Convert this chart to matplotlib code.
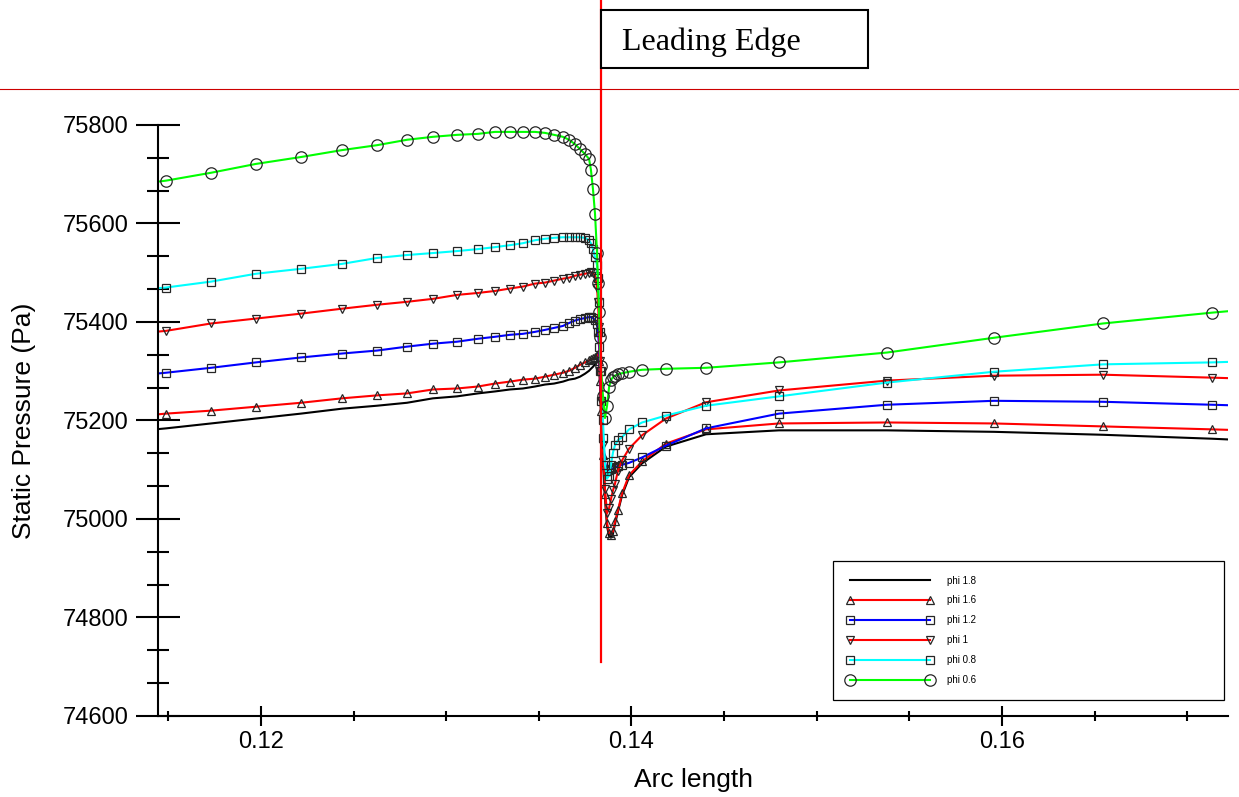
import matplotlib
matplotlib.use("Agg")
import matplotlib.pyplot as plt
from matplotlib.ticker import MultipleLocator, FormatStrFormatter
from matplotlib.patches import Rectangle
from matplotlib.lines import Line2D

# ---------------- data ----------------
arc_length = [0.11401, 0.11487, 0.11730, 0.11973, 0.12216, 0.12437, 0.12626, 0.12788,
              0.12928, 0.13058, 0.13171, 0.13263, 0.13344, 0.13414, 0.13479, 0.13533,
              0.13582, 0.13630, 0.13663, 0.13695, 0.13722, 0.13749, 0.13771, 0.13781,
              0.13792, 0.13803, 0.13814, 0.13819, 0.13825, 0.13830, 0.13835, 0.13846,
              0.13857, 0.13868, 0.13879, 0.13889, 0.13900, 0.13911, 0.13927, 0.13949,
              0.13987, 0.14057, 0.14186, 0.14402, 0.14796, 0.15379, 0.15957, 0.16545,
              0.17134, 0.17312]

phi_1_8 = [75181, 75184, 75194, 75204, 75214, 75224, 75230, 75236, 75245, 75249,
           75255, 75259, 75263, 75265, 75269, 75273, 75275, 75279, 75283, 75285,
           75289, 75295, 75301, 75305, 75309, 75314, 75320, 75330, 75315, 75270,
           75210, 75120, 75040, 74985, 74965, 74962, 74970, 74990, 75015, 75048,
           75085, 75113, 75147, 75172, 75180, 75180, 75177, 75171, 75163, 75160]

phi_1_6 = [75211, 75214, 75220, 75228, 75236, 75245, 75251, 75255, 75263, 75265,
           75269, 75275, 75279, 75283, 75285, 75289, 75293, 75297, 75301, 75307,
           75313, 75318, 75322, 75324, 75326, 75329, 75332, 75336, 75320, 75280,
           75220, 75130, 75050, 74992, 74972, 74968, 74975, 74995, 75018, 75052,
           75089, 75117, 75153, 75182, 75194, 75196, 75194, 75188, 75182, 75180]

phi_1_2 = [75294, 75297, 75307, 75318, 75328, 75336, 75342, 75350, 75356, 75360,
           75366, 75370, 75374, 75376, 75380, 75384, 75388, 75392, 75398, 75403,
           75406, 75408, 75410, 75410, 75408, 75404, 75395, 75380, 75350, 75300,
           75240, 75165, 75115, 75098, 75100, 75102, 75103, 75105, 75108, 75110,
           75114, 75125, 75149, 75184, 75214, 75232, 75240, 75238, 75232, 75230]

phi_1 = [75379, 75382, 75397, 75407, 75417, 75427, 75435, 75441, 75447, 75455,
         75459, 75463, 75468, 75472, 75478, 75480, 75484, 75488, 75490, 75494,
         75496, 75498, 75500, 75501, 75500, 75494, 75470, 75440, 75390, 75320,
         75240, 75150, 75060, 75012, 75022, 75040, 75058, 75072, 75098, 75119,
         75143, 75170, 75204, 75237, 75261, 75281, 75291, 75293, 75287, 75285]

phi_0_8 = [75467, 75470, 75482, 75498, 75508, 75518, 75530, 75536, 75540, 75544,
           75548, 75552, 75556, 75560, 75566, 75569, 75571, 75572, 75572, 75572,
           75572, 75571, 75566, 75560, 75548, 75532, 75515, 75490, 75440, 75380,
           75300, 75200, 75110, 75082, 75088, 75110, 75135, 75150, 75160, 75166,
           75182, 75196, 75210, 75230, 75249, 75277, 75299, 75314, 75318, 75320]

phi_0_6 = [75683, 75687, 75703, 75721, 75735, 75749, 75759, 75770, 75776, 75780,
           75782, 75786, 75786, 75786, 75786, 75784, 75780, 75776, 75770, 75761,
           75751, 75741, 75731, 75709, 75670, 75620, 75540, 75480, 75420, 75370,
           75310, 75250, 75205, 75230, 75268, 75282, 75288, 75291, 75294, 75296,
           75299, 75303, 75305, 75307, 75318, 75338, 75368, 75397, 75419, 75425]

series_labels = ["phi 1.8", "phi 1.6", "phi 1.2", "phi 1", "phi 0.8", "phi 0.6"]
series_values = [phi_1_8, phi_1_6, phi_1_2, phi_1, phi_0_8, phi_0_6]
leading_edge = 0.13835

# ---------------- styles ----------------
colors = ["#000000", "#ff0000", "#0000ff", "#ff0000", "#00ffff", "#00ff00"]
markers = [None, "^", "s", "v", "s", "o"]
msizes = [0, 6.0, 6.3, 6.0, 6.3, 8.2]

plt.rcParams["font.family"] = ["Liberation Sans", "DejaVu Sans"]

W, H = 1239, 797
fig = plt.figure(figsize=(W / 100, H / 100), dpi=100)
fig.patch.set_facecolor("white")
ax = fig.add_axes([158 / W, 1 - 716 / H, 1070 / W, 591 / H])

for vals, lab, c, m, ms in zip(series_values, series_labels, colors, markers, msizes):
    ax.plot(arc_length, vals, color=c, lw=1.5, marker=m, markersize=ms,
            markerfacecolor="none", markeredgecolor="#262626", markeredgewidth=0.9,
            label=lab)

ax.set_xlim(0.11444, 0.17220)
ax.set_ylim(74600, 75800)

for s in ["top", "right"]:
    ax.spines[s].set_visible(False)
for s in ["left", "bottom"]:
    ax.spines[s].set_linewidth(1.5)
    ax.spines[s].set_color("black")

ax.xaxis.set_major_locator(MultipleLocator(0.02))
ax.xaxis.set_minor_locator(MultipleLocator(0.005))
ax.xaxis.set_major_formatter(FormatStrFormatter("%.2f"))
ax.yaxis.set_major_locator(MultipleLocator(200))
ax.yaxis.set_minor_locator(MultipleLocator(200 / 3))
ax.yaxis.set_major_formatter(FormatStrFormatter("%d"))

ax.tick_params(axis="y", which="major", direction="inout", length=31, width=1.5,
               labelsize=17, pad=6)
ax.tick_params(axis="y", which="minor", direction="inout", length=16, width=1.5)
ax.tick_params(axis="x", which="major", direction="inout", length=15, width=1.5,
               labelsize=17, pad=3)
ax.tick_params(axis="x", which="minor", direction="inout", length=7, width=1.5)

ax.set_xlabel("Arc length", fontsize=19, labelpad=11)
ax.set_ylabel("Static Pressure (Pa)", fontsize=19, labelpad=19)

# leading edge vertical line
ax.plot([leading_edge, leading_edge], [74710, 76080], color="#ff0000", lw=1.6,
        clip_on=False, zorder=10)

leg = ax.legend(loc="upper left", bbox_to_anchor=(0.6308, 0.0321, 0.3655, 0.2302),
                mode="expand", borderaxespad=0, fontsize=7, numpoints=2,
                handlelength=8.8, handletextpad=1.4, labelspacing=1.02,
                borderpad=1.5, fancybox=False, framealpha=1, edgecolor="black")
leg.get_frame().set_linewidth(0.9)

# horizontal red line across figure
fig.add_artist(Line2D([0, 1], [1 - 89 / H, 1 - 89 / H], transform=fig.transFigure,
                      color="#cc0000", lw=0.8))

# Leading Edge box
fig.add_artist(Rectangle((601 / W, 1 - 68 / H), 267 / W, 58 / H, transform=fig.transFigure,
                         facecolor="white", edgecolor="black", lw=1.5, zorder=20))
fig.text(622 / W, 1 - 50 / H, "Leading Edge", fontsize=23, family="Liberation Serif",
         ha="left", va="baseline", zorder=21)

fig.savefig("out.png", dpi=100, facecolor="white")
